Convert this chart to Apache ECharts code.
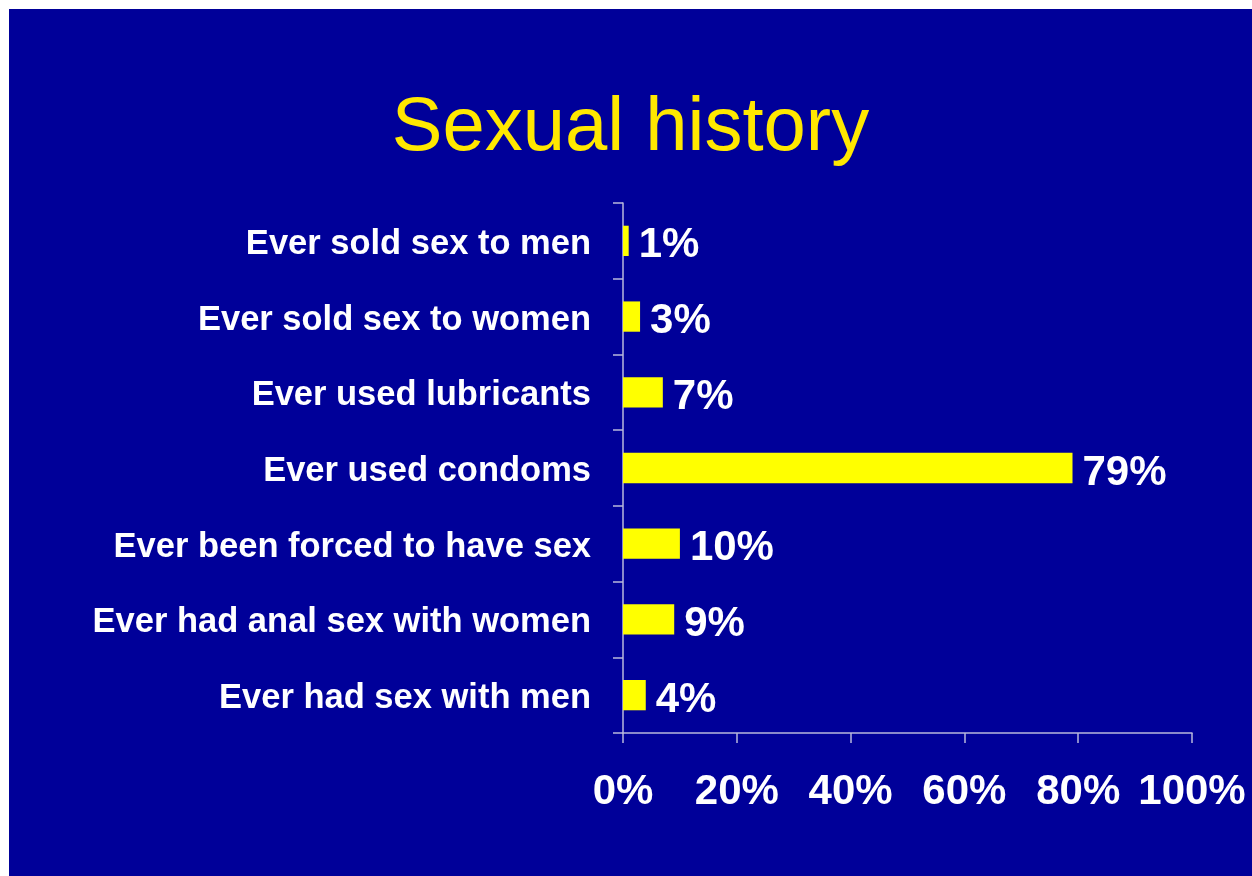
<!DOCTYPE html>
<html>
<head>
<meta charset="utf-8">
<script src="https://cdn.jsdelivr.net/npm/echarts@6/dist/echarts.min.js"></script>
<style>
html,body{margin:0;padding:0;background:#ffffff;width:1252px;height:876px;overflow:hidden;}
#chart{position:absolute;left:9px;top:9px;width:1243px;height:867px;background:#000099;}
</style>
</head>
<body>
<div id="chart"></div>
<script>
const titleText = 'Sexual history';
const categories = [
  'Ever sold sex to men',
  'Ever sold sex to women',
  'Ever used lubricants',
  'Ever used condoms',
  'Ever been forced to have sex',
  'Ever had anal sex with women',
  'Ever had sex with men'
];
const values = [1, 3, 7, 79, 10, 9, 4];
const xMin = 0, xMax = 100, xStep = 20;

const chart = echarts.init(document.getElementById('chart'), null, {renderer: 'canvas'});
const axisColor = '#b8b8dc';
const catFont = {color: '#ffffff', fontFamily: 'Liberation Sans', fontWeight: 'bold', fontSize: 34.5};
chart.setOption({
  backgroundColor: '#000099',
  animation: false,
  title: {
    text: titleText,
    left: 'center',
    top: 77,
    textStyle: {color: '#ffe800', fontFamily: 'Liberation Sans', fontWeight: 'normal', fontSize: 76}
  },
  grid: {left: 614, right: 60, top: 194, bottom: 143, containLabel: false},
  xAxis: {
    type: 'value',
    min: xMin, max: xMax, interval: xStep,
    axisLine: {show: true, lineStyle: {color: axisColor, width: 1.5}},
    axisTick: {show: true, length: 10, lineStyle: {color: axisColor, width: 1.5}},
    splitLine: {show: false},
    axisLabel: {
      formatter: '{value}%', margin: 38,
      color: '#ffffff', fontFamily: 'Liberation Sans', fontWeight: 'bold', fontSize: 42
    }
  },
  yAxis: {
    type: 'category',
    data: categories,
    inverse: true,
    axisLine: {show: true, lineStyle: {color: axisColor, width: 1.5}},
    axisTick: {show: true, length: 10, lineStyle: {color: axisColor, width: 1.5}},
    axisLabel: {
      margin: 32,
      formatter: function (v) { return '{c|' + v + '}'; },
      rich: {c: Object.assign({padding: [7, 0, 0, 0]}, catFont)},
      ...catFont
    }
  },
  series: [{
    type: 'bar',
    data: values,
    barWidth: '40%',
    itemStyle: {color: '#ffff00'},
    label: {
      show: true, position: 'right', distance: 10,
      offset: [0, 5],
      formatter: '{c}%',
      color: '#ffffff', fontFamily: 'Liberation Sans', fontWeight: 'bold', fontSize: 42
    }
  }]
});
</script>
</body>
</html>
